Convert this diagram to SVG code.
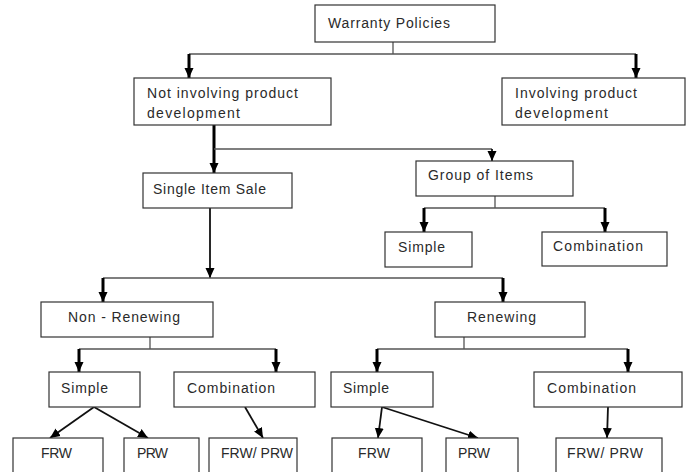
<svg xmlns="http://www.w3.org/2000/svg" width="686" height="472" viewBox="0 0 686 472">
<style>
.box rect{fill:#fff;stroke:#333;stroke-width:1.2}
.box text{font-family:"Liberation Sans",Arial,sans-serif;font-size:14px;fill:#2a2a2a}
.thin{stroke:#555;stroke-width:1.3;fill:none}
.mid{stroke:#111;stroke-width:1.8;fill:none}
.thick{stroke:#000;stroke-width:3;fill:none}
</style>
<defs>
<marker id="ah" markerUnits="userSpaceOnUse" markerWidth="10" markerHeight="10" refX="10" refY="5" orient="auto">
<path d="M0,0.5 L10,5 L0,9.5 z" fill="#000"/>
</marker>
</defs>
<rect width="686" height="472" fill="#fff"/>
<g id="connectors">
<path class="thin" d="M393,42 V54 M189,54 H636"/>
<path class="thick" d="M189,54 V78" marker-end="url(#ah)"/>
<path class="thick" d="M636,54 V78" marker-end="url(#ah)"/>
<path class="thick" d="M214,125 V173" marker-end="url(#ah)"/>
<path class="thin" d="M214,149 H492"/>
<path class="mid" d="M492,149 V161" marker-end="url(#ah)"/>
<path class="mid" d="M210,208 V278" marker-end="url(#ah)"/>
<path class="thin" d="M103,278 H503"/>
<path class="thick" d="M103,278 V302" marker-end="url(#ah)"/>
<path class="thick" d="M503,278 V302" marker-end="url(#ah)"/>
<path class="thin" d="M495,196 V208 M424,208 H605"/>
<path class="thick" d="M424,208 V232" marker-end="url(#ah)"/>
<path class="thick" d="M605,208 V232" marker-end="url(#ah)"/>
<path class="thin" d="M150,337 V349 M79,349 H276"/>
<path class="thick" d="M79,349 V372" marker-end="url(#ah)"/>
<path class="thick" d="M276,349 V372" marker-end="url(#ah)"/>
<path class="thin" d="M464,337 V349 M377,349 H628"/>
<path class="thick" d="M377,349 V372" marker-end="url(#ah)"/>
<path class="thick" d="M628,349 V372" marker-end="url(#ah)"/>
<path class="mid" d="M94,407 L50,438" marker-end="url(#ah)"/>
<path class="mid" d="M94,407 L148,438" marker-end="url(#ah)"/>
<path class="mid" d="M245,407 L263,438" marker-end="url(#ah)"/>
<path class="mid" d="M382,407 L378,438" marker-end="url(#ah)"/>
<path class="mid" d="M382,407 L478,438" marker-end="url(#ah)"/>
<path class="mid" d="M608,407 L607,438" marker-end="url(#ah)"/>
</g>
<g id="warranty" class="box"><rect x="315" y="5" width="180" height="37"/><text x="328" y="28" textLength="122">Warranty Policies</text></g>
<g id="not-involving" class="box"><rect x="134" y="78" width="197" height="47"/><text x="147" y="98" textLength="151">Not involving product</text><text x="147" y="118" textLength="93">development</text></g>
<g id="involving" class="box"><rect x="502" y="78" width="183" height="47"/><text x="515" y="98" textLength="122">Involving product</text><text x="515" y="118" textLength="93">development</text></g>
<g id="single-item" class="box"><rect x="143" y="173" width="149" height="35"/><text x="153" y="194" textLength="113">Single Item Sale</text></g>
<g id="group-items" class="box"><rect x="416" y="161" width="157" height="35"/><text x="428" y="180" textLength="105">Group of Items</text></g>
<g id="group-simple" class="box"><rect x="385" y="232" width="87" height="35"/><text x="398" y="252" textLength="47">Simple</text></g>
<g id="group-combination" class="box"><rect x="542" y="232" width="125" height="34"/><text x="553" y="251" textLength="90">Combination</text></g>
<g id="non-renewing" class="box"><rect x="41" y="302" width="172" height="35"/><text x="68" y="322" textLength="112">Non - Renewing</text></g>
<g id="renewing" class="box"><rect x="435" y="302" width="150" height="35"/><text x="467" y="322" textLength="69">Renewing</text></g>
<g id="nr-simple" class="box"><rect x="49" y="372" width="91" height="35"/><text x="61" y="393" textLength="47">Simple</text></g>
<g id="nr-combination" class="box"><rect x="174" y="372" width="141" height="35"/><text x="187" y="393" textLength="88">Combination</text></g>
<g id="r-simple" class="box"><rect x="331" y="372" width="102" height="35"/><text x="343" y="393" textLength="46">Simple</text></g>
<g id="r-combination" class="box"><rect x="534" y="372" width="148" height="35"/><text x="547" y="393" textLength="89">Combination</text></g>
<g id="nr-frw" class="box"><rect x="13" y="438" width="90" height="45"/><text x="41" y="458" textLength="31">FRW</text></g>
<g id="nr-prw" class="box"><rect x="124" y="438" width="75" height="45"/><text x="137" y="458" textLength="31">PRW</text></g>
<g id="nr-frw-prw" class="box"><rect x="209" y="438" width="88" height="45"/><text x="221" y="458" textLength="72">FRW/ PRW</text></g>
<g id="r-frw" class="box"><rect x="332" y="438" width="90" height="45"/><text x="358" y="458" textLength="32">FRW</text></g>
<g id="r-prw" class="box"><rect x="446" y="438" width="72" height="45"/><text x="458" y="458" textLength="32">PRW</text></g>
<g id="r-frw-prw" class="box"><rect x="556" y="438" width="106" height="45"/><text x="567" y="458" textLength="76">FRW/ PRW</text></g>
</svg>
